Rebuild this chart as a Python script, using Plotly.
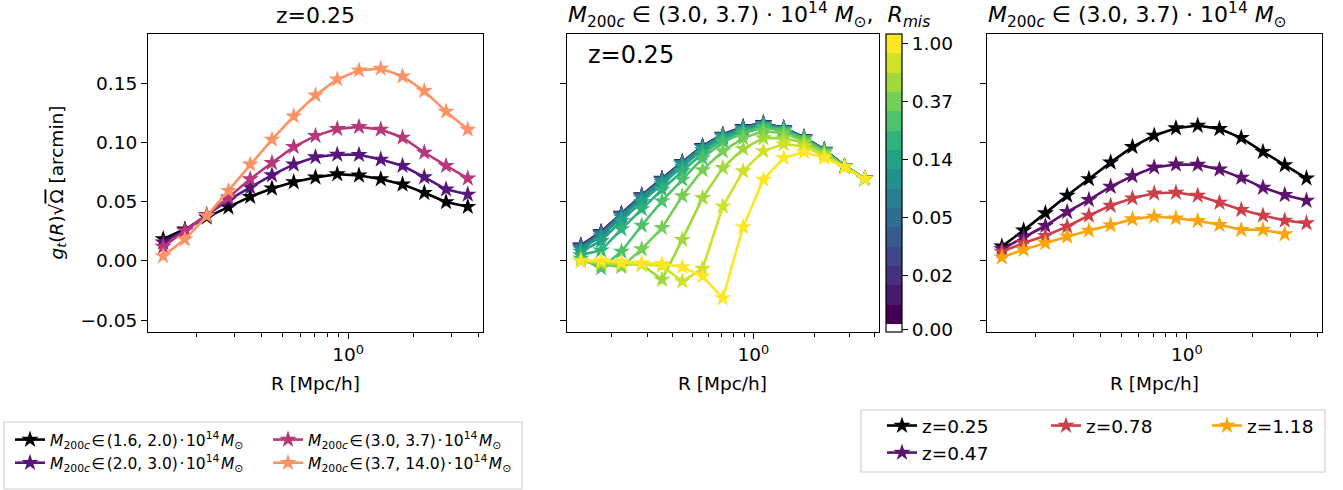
import plotly.graph_objects as go
from plotly.colors import sample_colorscale

W, H = 1343, 490
FONT = "DejaVu Sans"

# ---------------- data ----------------
R = [0.1403, 0.1767, 0.2227, 0.2806, 0.3535, 0.4454, 0.5612, 0.7071,
     0.8909, 1.1225, 1.4142, 1.7818, 2.2449, 2.8284, 3.5636]

HS = "\u200a"
mass_labels = [
    f"<i>M</i><sub>200<i>c</i></sub>{HS}∈{HS}(1.6, 2.0){HS}·{HS}10<sup>14</sup>{HS}<i>M</i><sub>⊙</sub>",
    f"<i>M</i><sub>200<i>c</i></sub>{HS}∈{HS}(2.0, 3.0){HS}·{HS}10<sup>14</sup>{HS}<i>M</i><sub>⊙</sub>",
    f"<i>M</i><sub>200<i>c</i></sub>{HS}∈{HS}(3.0, 3.7){HS}·{HS}10<sup>14</sup>{HS}<i>M</i><sub>⊙</sub>",
    f"<i>M</i><sub>200<i>c</i></sub>{HS}∈{HS}(3.7, 14.0){HS}·{HS}10<sup>14</sup>{HS}<i>M</i><sub>⊙</sub>",
]
g_m1 = [0.0186, 0.0268, 0.0369, 0.0454, 0.0544, 0.0614, 0.0668, 0.0707, 0.0735, 0.0724, 0.0693, 0.0648, 0.0577, 0.0499, 0.0459]
g_m2 = [0.0158, 0.0262, 0.0389, 0.0515, 0.0623, 0.0727, 0.0817, 0.0879, 0.0901, 0.0899, 0.0859, 0.0806, 0.0710, 0.0606, 0.0563]
g_m3 = [0.0121, 0.0256, 0.0389, 0.0538, 0.0693, 0.0831, 0.0966, 0.1059, 0.1118, 0.1135, 0.1113, 0.1045, 0.0918, 0.0806, 0.0699]
g_m4 = [0.0042, 0.0183, 0.0380, 0.0594, 0.0817, 0.1028, 0.1225, 0.1403, 0.1538, 0.1614, 0.1628, 0.1563, 0.1439, 0.1265, 0.1113]
mass_colors = ["#000004", "#57157e", "#b8377a", "#fc9366"]

z_labels = ["z=0.25", "z=0.47", "z=0.78", "z=1.18"]
g_z1 = [0.0124, 0.0259, 0.0405, 0.0554, 0.0694, 0.0834, 0.0966, 0.1062, 0.1124, 0.1146, 0.1118, 0.1042, 0.0924, 0.0812, 0.0699]
g_z2 = [0.0101, 0.0202, 0.0298, 0.0416, 0.0517, 0.0629, 0.0719, 0.0792, 0.0817, 0.0815, 0.0775, 0.0705, 0.0621, 0.0559, 0.0511]
g_z3 = [0.0079, 0.0152, 0.0213, 0.0292, 0.0385, 0.0469, 0.0531, 0.0573, 0.0579, 0.0553, 0.0494, 0.0433, 0.0385, 0.0343, 0.0320]
g_z4 = [0.0031, 0.0096, 0.0152, 0.0208, 0.0258, 0.0303, 0.0354, 0.0376, 0.0362, 0.0340, 0.0306, 0.0264, 0.0264, 0.0228]
z_colors = ["#000004", "#5c126e", "#cb4149", "#fba40a"]

R_mis = [1.00, 0.72, 0.51, 0.37, 0.26, 0.19, 0.14, 0.10, 0.07, 0.05, 0.04, 0.03, 0.02, 0.01, 0.01]
g_mis_00 = [0.0000, 0.0006, -0.0008, -0.0017, -0.0025, -0.0051, -0.0130, -0.0314, 0.0288, 0.0689, 0.0873, 0.0921, 0.0873, 0.0797, 0.0695]
g_mis_01 = [0.0000, -0.0010, -0.0020, -0.0030, -0.0040, -0.0172, -0.0065, 0.0463, 0.0760, 0.0930, 0.0990, 0.0970, 0.0890, 0.0790, 0.0695]
g_mis_02 = [0.0000, -0.0020, -0.0030, -0.0030, -0.0158, 0.0180, 0.0534, 0.0788, 0.0950, 0.1040, 0.1040, 0.1000, 0.0910, 0.0800, 0.0695]
g_mis_03 = [0.0000, -0.0030, -0.0050, 0.0100, 0.0280, 0.0550, 0.0770, 0.0930, 0.1040, 0.1100, 0.1080, 0.1020, 0.0920, 0.0800, 0.0695]
g_mis_04 = [0.0020, -0.0060, 0.0080, 0.0300, 0.0506, 0.0690, 0.0870, 0.1010, 0.1080, 0.1130, 0.1100, 0.1030, 0.0930, 0.0800, 0.0695]
g_mis_05 = [0.0050, 0.0090, 0.0270, 0.0440, 0.0605, 0.0760, 0.0910, 0.1030, 0.1100, 0.1140, 0.1110, 0.1040, 0.0930, 0.0800, 0.0695]
g_mis_06 = [0.0080, 0.0170, 0.0340, 0.0500, 0.0650, 0.0800, 0.0940, 0.1050, 0.1110, 0.1150, 0.1110, 0.1040, 0.0935, 0.0800, 0.0695]
g_mis_07 = [0.0100, 0.0210, 0.0370, 0.0530, 0.0670, 0.0820, 0.0960, 0.1060, 0.1120, 0.1160, 0.1120, 0.1040, 0.0937, 0.0800, 0.0695]
g_mis_08 = [0.0110, 0.0228, 0.0385, 0.0542, 0.0684, 0.0827, 0.0962, 0.1060, 0.1125, 0.1159, 0.1118, 0.1041, 0.0938, 0.0802, 0.0695]
g_mis_09 = [0.0116, 0.0232, 0.0389, 0.0545, 0.0686, 0.0829, 0.0964, 0.1061, 0.1126, 0.1160, 0.1119, 0.1042, 0.0938, 0.0802, 0.0695]
g_mis_10 = [0.0120, 0.0235, 0.0391, 0.0547, 0.0688, 0.0830, 0.0965, 0.1062, 0.1127, 0.1161, 0.1119, 0.1042, 0.0938, 0.0802, 0.0695]
g_mis_11 = [0.0124, 0.0238, 0.0394, 0.0549, 0.0690, 0.0832, 0.0967, 0.1063, 0.1128, 0.1162, 0.1120, 0.1043, 0.0939, 0.0803, 0.0696]
g_mis_12 = [0.0127, 0.0241, 0.0396, 0.0551, 0.0692, 0.0834, 0.0969, 0.1065, 0.1130, 0.1164, 0.1122, 0.1045, 0.0940, 0.0804, 0.0697]
g_mis_13 = [0.0130, 0.0244, 0.0399, 0.0554, 0.0695, 0.0837, 0.0971, 0.1067, 0.1132, 0.1166, 0.1124, 0.1046, 0.0941, 0.0805, 0.0697]
g_mis_14 = [0.0133, 0.0247, 0.0402, 0.0557, 0.0698, 0.0840, 0.0974, 0.1070, 0.1135, 0.1169, 0.1126, 0.1048, 0.0942, 0.0806, 0.0698]

cbar_tickvals_k = [0, 3, 6, 9, 12]
cbar_ticktext = ["1.00", "0.37", "0.14", "0.05", "0.02", "0.00"]

y_ticks = [-0.05, 0.0, 0.05, 0.10, 0.15]
y_ticktext = ["−0.05", "0.00", "0.05", "0.10", "0.15"]
x_minor = [0.2, 0.3, 0.4, 0.5, 0.6, 0.7, 0.8, 0.9, 2, 3, 4]

# ---------------- helpers ----------------
def px_x(p):
    return p / W

def px_y(p):
    return 1 - p / H

XR = [-0.923, 0.622]
YR = [-0.0601, 0.1925]

def xaxis(dom, anchor):
    return dict(domain=dom, anchor=anchor, type="log", range=XR,
                tickmode="array", tickvals=[1], ticktext=["10<sup>0</sup>"],
                ticks="outside", ticklen=6, tickwidth=1.2, tickcolor="black",
                showline=True, linecolor="black", linewidth=1.2, mirror=True,
                showgrid=False, zeroline=False,
                minor=dict(tickmode="array", tickvals=x_minor, ticks="outside",
                           ticklen=3.5, tickwidth=1, tickcolor="black", showgrid=False),
                tickfont=dict(size=18.5, color="black", family=FONT))

def yaxis(dom, anchor, labels):
    return dict(domain=dom, anchor=anchor, range=YR, tickmode="array",
                tickvals=y_ticks, ticktext=y_ticktext, showticklabels=labels,
                ticks="outside", ticklen=6, tickwidth=1.2, tickcolor="black",
                showline=True, linecolor="black", linewidth=1.2, mirror=True,
                showgrid=False, zeroline=False,
                tickfont=dict(size=18.5, color="black", family=FONT))

fig = go.Figure()

LW = 2.6
MS = 13

# left panel
left_series = [g_m1, g_m2, g_m3, g_m4]
left_leg = ["legend", "legend", "legend3", "legend3"]
for i, g in enumerate(left_series):
    fig.add_trace(go.Scatter(
        x=R[:len(g)], y=g, mode="lines+markers", name=mass_labels[i],
        line=dict(color=mass_colors[i], width=LW),
        marker=dict(symbol="star", size=MS, color=mass_colors[i], line=dict(width=0)),
        xaxis="x", yaxis="y", legend=left_leg[i]))

# middle panel
mis_series = [g_mis_00, g_mis_01, g_mis_02, g_mis_03, g_mis_04, g_mis_05, g_mis_06,
              g_mis_07, g_mis_08, g_mis_09, g_mis_10, g_mis_11, g_mis_12, g_mis_13, g_mis_14]
n = len(mis_series)
mis_colors = sample_colorscale("Viridis", [1 - k / (n - 1) for k in range(n)])
for k in range(n - 1, -1, -1):
    g = mis_series[k]
    fig.add_trace(go.Scatter(
        x=R[:len(g)], y=g, mode="lines+markers", showlegend=False,
        line=dict(color=mis_colors[k], width=LW),
        marker=dict(symbol="star", size=MS, color=mis_colors[k], line=dict(width=0)),
        xaxis="x2", yaxis="y2"))

# colorbar (discrete)
cb_top, cb_bot = 34, 332
cb_len = cb_bot - cb_top
white_frac = 8 / cb_len
band = (1 - white_frac) / n
cscale = [[0.0, "white"], [white_frac, "white"]]
for j in range(n):
    k = n - 1 - j
    lo = white_frac + j * band
    hi = white_frac + (j + 1) * band
    cscale.append([lo, mis_colors[k]])
    cscale.append([min(hi, 1.0), mis_colors[k]])
tickvals = [1 - (k + 0.5) * band for k in cbar_tickvals_k] + [2.3 / cb_len]
fig.add_trace(go.Scatter(
    x=[None], y=[None], mode="markers", showlegend=False, xaxis="x2", yaxis="y2",
    marker=dict(color=[0.5], colorscale=cscale, cmin=0, cmax=1, showscale=True,
                colorbar=dict(x=px_x(886), xanchor="left", y=px_y(cb_bot), yanchor="bottom",
                              len=cb_len, lenmode="pixels", thickness=16, thicknessmode="pixels",
                              xpad=0, ypad=0, outlinewidth=1.2, outlinecolor="black",
                              tickmode="array", tickvals=tickvals, ticktext=cbar_ticktext,
                              ticks="outside", ticklen=6, tickwidth=1.2, tickcolor="black",
                              tickfont=dict(size=18.5, color="black", family=FONT)))))

# right panel
right_series = [g_z1, g_z2, g_z3, g_z4]
right_leg = ["legend2", "legend2", "legend4", "legend5"]
for i, g in enumerate(right_series):
    fig.add_trace(go.Scatter(
        x=R[:len(g)], y=g, mode="lines+markers", name=z_labels[i],
        line=dict(color=z_colors[i], width=LW),
        marker=dict(symbol="star", size=MS, color=z_colors[i], line=dict(width=0)),
        xaxis="x3", yaxis="y3", legend=right_leg[i]))

ydom = [px_y(332), px_y(33.5)]
fig.update_layout(
    width=W, height=H, margin=dict(l=0, r=0, t=0, b=0),
    paper_bgcolor="white", plot_bgcolor="white",
    font=dict(family=FONT, color="black", size=18.5),
    xaxis=xaxis([px_x(148), px_x(483)], "y"),
    yaxis=yaxis(ydom, "x", True),
    xaxis2=xaxis([px_x(566.7), px_x(879)], "y2"),
    yaxis2=yaxis(ydom, "x2", False),
    xaxis3=xaxis([px_x(986.7), px_x(1321.7)], "y3"),
    yaxis3=yaxis(ydom, "x3", False),
)

def leg(x, y, size):
    return dict(x=px_x(x), y=px_y(y), orientation="v", xanchor="left", yanchor="top",
                bgcolor="rgba(0,0,0,0)", borderwidth=0,
                font=dict(size=size, family=FONT, color="black"),
                tracegroupgap=0, itemwidth=30, traceorder="normal")

fig.update_layout(
    legend=leg(10, 423, 15.5),
    legend3=leg(268, 423, 15.5),
    legend2=leg(882, 407, 18.5),
    legend4=leg(1046, 407, 18.5),
    legend5=leg(1207, 407, 18.5),
)

# legend frames
for (x0, y0, x1, y1) in [(4, 422, 522, 489), (861, 410, 1325, 472)]:
    fig.add_shape(type="rect", xref="paper", yref="paper",
                  x0=px_x(x0), x1=px_x(x1), y0=px_y(y1), y1=px_y(y0),
                  line=dict(color="#d0d0d0", width=1.2), fillcolor="rgba(0,0,0,0)", layer="below")

def ann(text, x, y, size=18.5, xanchor="center", yanchor="middle", angle=0):
    fig.add_annotation(text=text, x=px_x(x), y=px_y(y), xref="paper", yref="paper",
                       showarrow=False, xanchor=xanchor, yanchor=yanchor, textangle=angle,
                       font=dict(size=size, family=FONT, color="black"))

ann("z=0.25", 315.5, 15, size=22)
ann("<i>M</i><sub>200<i>c</i></sub> ∈ (3.0, 3.7) · 10<sup>14</sup> <i>M</i><sub>⊙</sub>,  <i>R<sub>mis</sub></i>",
    566, 15, size=22, xanchor="left")
ann("<i>M</i><sub>200<i>c</i></sub> ∈ (3.0, 3.7) · 10<sup>14</sup> <i>M</i><sub>⊙</sub>",
    986, 15, size=22, xanchor="left")
ann("z=0.25", 586, 55, size=24, xanchor="left")
for cx in [315.5, 722.8, 1154]:
    ann("R [Mpc/h]", cx, 383)
ann("<i>g<sub>t</sub></i>(<i>R</i>)√<span style='text-decoration:overline'>Ω</span> [arcmin]",
    57, 182.5, angle=-90)

fig.write_html("out.html")
